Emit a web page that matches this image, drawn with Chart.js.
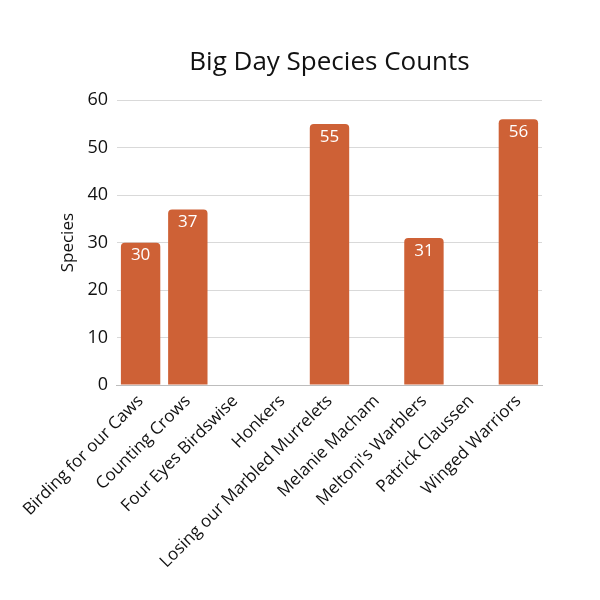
<!DOCTYPE html>
<html>
<head>
<meta charset="utf-8">
<script src="https://cdn.jsdelivr.net/npm/chart.js@4.4.1/dist/chart.umd.min.js"></script>
<style>
  html, body { margin: 0; padding: 0; background: #fff; }
  #wrap { width: 600px; height: 600px; }
</style>
</head>
<body>
<div id="wrap"><canvas id="chart" width="600" height="600"></canvas></div>
<script>
const teams = [
  'Birding for our Caws',
  'Counting Crows',
  'Four Eyes Birdswise',
  'Honkers',
  'Losing our Marbled Murrelets',
  'Melanie Macham',
  "Meltoni's Warblers",
  'Patrick Claussen',
  'Winged Warriors'
];
const species = [30, 37, null, null, 55, null, 31, null, 56];
const yTicks = [0, 10, 20, 30, 40, 50, 60];

const fontFamily = '"Open Sans", "Noto Sans", sans-serif';

// white value labels near the top of each bar
const barLabels = {
  id: 'barLabels',
  afterDatasetsDraw(chart) {
    const ctx = chart.ctx;
    const meta = chart.getDatasetMeta(0);
    ctx.save();
    ctx.fillStyle = '#ffffff';
    ctx.font = '17px ' + fontFamily;
    ctx.textAlign = 'center';
    ctx.textBaseline = 'middle';
    meta.data.forEach((bar, i) => {
      const v = chart.data.datasets[0].data[i];
      if (v == null) return;
      ctx.fillText(String(v), bar.x, bar.y + 13);
    });
    ctx.restore();
  }
};

new Chart(document.getElementById('chart').getContext('2d'), {
  type: 'bar',
  data: {
    labels: teams,
    datasets: [{
      label: 'Species',
      data: species,
      backgroundColor: '#CE6136',
      borderRadius: 4,
      borderSkipped: 'bottom',
      categoryPercentage: 0.86,
      barPercentage: 0.97
    }]
  },
  options: {
    responsive: false,
    animation: false,
    layout: { padding: { left: 54, right: 58, top: 47, bottom: 22 } },
    plugins: {
      legend: { display: false },
      tooltip: { enabled: false },
      title: {
        display: true,
        fullSize: false,
        text: 'Big Day Species Counts',
        color: '#111111',
        font: { family: fontFamily, size: 26, weight: 'normal' },
        padding: { top: 0, bottom: 22 }
      }
    },
    scales: {
      x: {
        grid: { display: false, drawTicks: false },
        border: { color: '#bdbdbd', width: 1 },
        ticks: {
          color: '#111111',
          font: { family: fontFamily, size: 17 },
          maxRotation: 45,
          minRotation: 45,
          autoSkip: false,
          padding: 6
        }
      },
      y: {
        min: 0,
        max: 60,
        afterBuildTicks(axis) {
          axis.ticks = yTicks.map(v => ({ value: v }));
        },
        grid: { color: '#d9d9d9', drawTicks: false },
        border: { display: false },
        ticks: {
          color: '#111111',
          font: { family: fontFamily, size: 18 },
          padding: 9
        },
        title: {
          display: true,
          text: 'Species',
          color: '#111111',
          font: { family: fontFamily, size: 17 },
          padding: { top: 4, bottom: 0 }
        }
      }
    }
  },
  plugins: [barLabels]
});
</script>
</body>
</html>
